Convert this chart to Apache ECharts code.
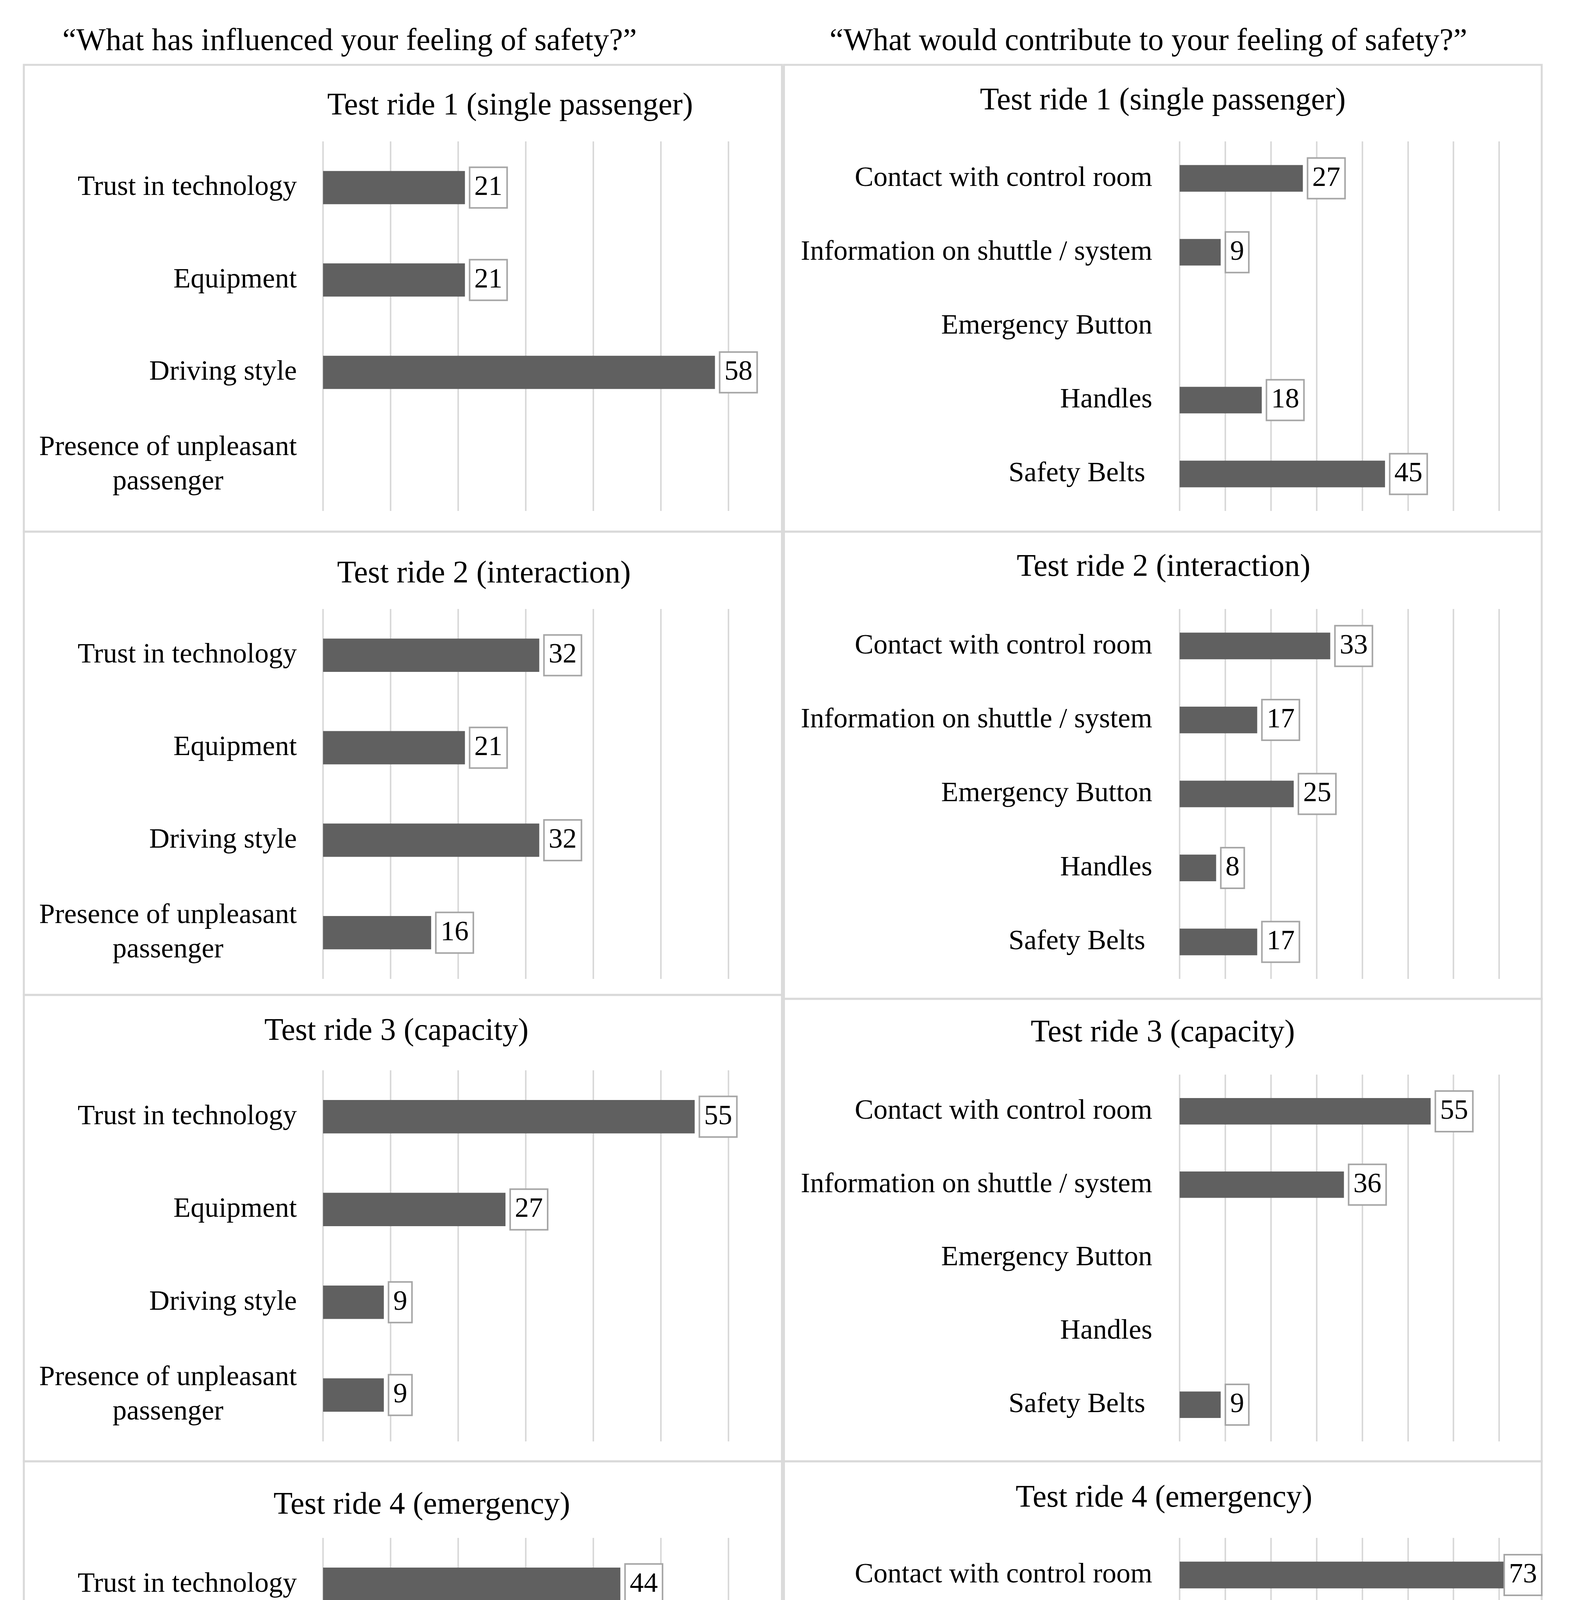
<!DOCTYPE html>
<html>
<head>
<meta charset="utf-8">
<style>
html,body{margin:0;padding:0;background:#ffffff;}
#chart{width:4022px;height:5077px;}
</style>
<script src="https://cdn.jsdelivr.net/npm/echarts@6/dist/echarts.min.js"></script>
</head>
<body>
<div id="chart"></div>
<script>
// ---------- data ----------
const leftHeader = '\u201cWhat has influenced your feeling of safety?\u201d';
const rightHeader = '\u201cWhat would contribute to your feeling of safety?\u201d';
const footerLabel = 'in % of given answers';
const rideTitles = ['Test ride 1 (single passenger)', 'Test ride 2 (interaction)', 'Test ride 3 (capacity)', 'Test ride 4 (emergency)'];
const influencedCategories = ['Trust in technology', 'Equipment', 'Driving style', 'Presence of unpleasant\npassenger'];
const contributeCategories = ['Contact with control room', 'Information on shuttle / system', 'Emergency Button', 'Handles', 'Safety Belts '];
const influenced1 = [21, 21, 58, null];
const influenced2 = [32, 21, 32, 16];
const influenced3 = [55, 27, 9, 9];
const influenced4 = [44, 44, 11, null];
const contribute1 = [27, 9, null, 18, 45];
const contribute2 = [33, 17, 25, 8, 17];
const contribute3 = [55, 36, null, null, 9];
const contribute4 = [73, 27, null, null, null];
const influencedMax = 60;
const contributeMax = 70;
const tickStep = 10;

// ---------- layout / style ----------
const FONT = '"Liberation Serif", "DejaVu Serif", serif';
const BAR_COLOR = '#606060';
const GRID_LINE = '#d9d9d9';
const PANEL_LINE = '#d9d9d9';

const LX = 827, LW = 1038;   // left plot area
const RX = 3020, RW = 818;   // right plot area

const panels = [
  {cats: influencedCategories, values: influenced1, max: influencedMax, title: rideTitles[0], plot: [LX, 362, LW, 946], tx: 1306, ty: 272, box: [61, 166, 1941, 1195]},
  {cats: influencedCategories, values: influenced2, max: influencedMax, title: rideTitles[1], plot: [LX, 1559, LW, 947], tx: 1239, ty: 1470, box: [61, 1361, 1941, 1186]},
  {cats: influencedCategories, values: influenced3, max: influencedMax, title: rideTitles[2], plot: [LX, 2740, LW, 950], tx: 1015, ty: 2641, box: [61, 2547, 1941, 1194]},
  {cats: influencedCategories, values: influenced4, max: influencedMax, title: rideTitles[3], plot: [LX, 3937, LW, 950], tx: 1080, ty: 3854, box: [61, 3741, 1941, 1195]},
  {cats: contributeCategories, values: contribute1, max: contributeMax, title: rideTitles[0], plot: [RX, 362, RW, 946], tx: 2977, ty: 259, box: [2007, 166, 1940, 1195]},
  {cats: contributeCategories, values: contribute2, max: contributeMax, title: rideTitles[1], plot: [RX, 1559, RW, 947], tx: 2979, ty: 1453, box: [2007, 1361, 1940, 1196]},
  {cats: contributeCategories, values: contribute3, max: contributeMax, title: rideTitles[2], plot: [RX, 2751, RW, 939], tx: 2977, ty: 2645, box: [2007, 2557, 1940, 1184]},
  {cats: contributeCategories, values: contribute4, max: contributeMax, title: rideTitles[3], plot: [RX, 3937, RW, 950], tx: 2980, ty: 3836, box: [2007, 3741, 1940, 1195]}
];

const grids = [], xAxes = [], yAxes = [], series = [], graphics = [];

panels.forEach((p, i) => {
  grids.push({left: p.plot[0], top: p.plot[1], width: p.plot[2], height: p.plot[3], outerBoundsMode: 'none', containLabel: false});
  xAxes.push({
    type: 'value', gridIndex: i, min: 0, max: p.max, interval: tickStep,
    axisLine: {show: false}, axisTick: {show: false}, axisLabel: {show: false},
    splitLine: {show: true, lineStyle: {color: GRID_LINE, width: 4}}
  });
  yAxes.push({
    type: 'category', gridIndex: i, data: p.cats, inverse: true,
    axisLine: {show: false}, axisTick: {show: false}, splitLine: {show: false},
    axisLabel: {
      margin: i < 4 ? 67 : 70,
      fontFamily: FONT, fontSize: 72, color: '#000', lineHeight: 88,
      formatter: v => v.split('\n').map(s => '{c|' + s + '}').join('\n'),
      rich: {c: {fontFamily: FONT, fontSize: 72, color: '#000', lineHeight: 88, align: 'center'}}
    }
  });
  series.push({
    type: 'bar', xAxisIndex: i, yAxisIndex: i, barWidth: '36%', clip: false,
    itemStyle: {color: BAR_COLOR},
    // a label whose bar runs past the axis end is pulled back inside the panel
    data: p.values.map(v => (v != null && v > p.max) ? {value: v, label: {offset: [-34, 0]}} : v),
    label: {
      show: true, position: 'right', distance: 14,
      fontFamily: FONT, fontSize: 72, color: '#000', lineHeight: 76,
      backgroundColor: '#ffffff', borderColor: '#a6a6a6', borderWidth: 4,
      padding: [14, 10, 10, 10]
    }
  });
  graphics.push({
    type: 'rect', z: -1, silent: true,
    shape: {x: p.box[0], y: p.box[1], width: p.box[2], height: p.box[3]},
    style: {fill: null, stroke: PANEL_LINE, lineWidth: 5}
  });
  graphics.push({
    type: 'text', x: p.tx, y: p.ty, silent: true,
    style: {text: p.title, fontFamily: FONT, fontSize: 80, fill: '#000', align: 'center', verticalAlign: 'middle'}
  });
});

graphics.push({type: 'text', x: 895, y: 107, silent: true,
  style: {text: leftHeader, fontFamily: FONT, fontSize: 80, fill: '#000', align: 'center', verticalAlign: 'middle'}});
graphics.push({type: 'text', x: 2940, y: 107, silent: true,
  style: {text: rightHeader, fontFamily: FONT, fontSize: 80, fill: '#000', align: 'center', verticalAlign: 'middle'}});
graphics.push({type: 'text', x: 1173, y: 5012, silent: true,
  style: {text: footerLabel, fontFamily: FONT, fontSize: 72, fill: '#000', align: 'center', verticalAlign: 'middle'}});
graphics.push({type: 'text', x: 3151, y: 5012, silent: true,
  style: {text: footerLabel, fontFamily: FONT, fontSize: 72, fill: '#000', align: 'center', verticalAlign: 'middle'}});

const chart = echarts.init(document.getElementById('chart'), null, {renderer: 'canvas'});
chart.setOption({
  backgroundColor: '#ffffff',
  animation: false,
  grid: grids,
  xAxis: xAxes,
  yAxis: yAxes,
  series: series,
  graphic: graphics
});
</script>
</body>
</html>
